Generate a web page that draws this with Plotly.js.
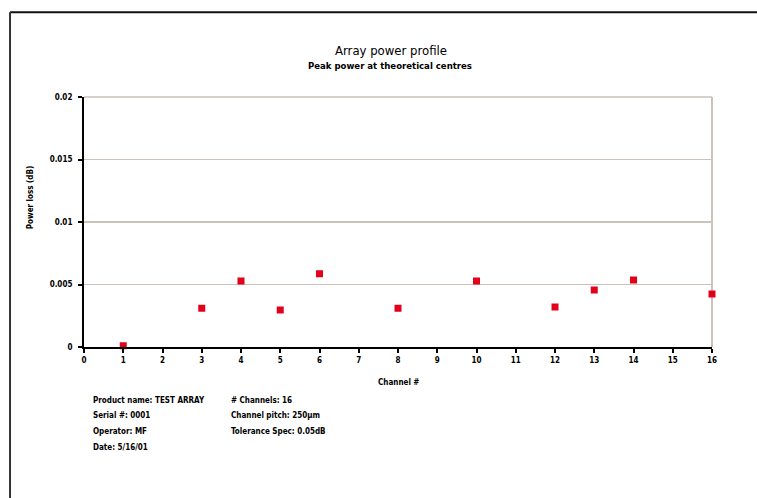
<!DOCTYPE html>
<html>
<head>
<meta charset="utf-8">
<script src="https://cdn.plot.ly/plotly-3.0.1.min.js"></script>
<style>html,body{margin:0;padding:0;background:#fff;}#chart{width:757px;height:498px;}</style>
</head>
<body>
<div id="chart"></div>
<script>
// Data
const channels = [1, 3, 4, 5, 6, 8, 10, 12, 13, 14, 16];
const powerLoss = [0.0001, 0.0031, 0.00528, 0.00296, 0.00586, 0.0031, 0.00528, 0.0032, 0.00456, 0.00536, 0.00424];
const xTicks = [0,1,2,3,4,5,6,7,8,9,10,11,12,13,14,15,16];
const yTicks = [0, 0.005, 0.01, 0.015, 0.02];
const yTickLabels = ["0", "0.005", "0.01", "0.015", "0.02"];
const infoLeft = ["Product name: TEST ARRAY", "Serial #: 0001", "Operator: MF", "Date: 5/16/01"];
const infoRight = ["# Channels: 16", "Channel pitch: 250µm", "Tolerance Spec: 0.05dB"];

const FONT = "Liberation Sans Narrow, Arial Narrow, DejaVu Sans Condensed, sans-serif";
const L = 83.5, R = 711.7, T = 97.3, B = 347.3;
const W = 757, H = 498;
const px = x => (x - L) / (R - L);
const py = y => (B - y) / (B - T);

const trace = {
  x: channels, y: powerLoss, type: 'scatter', mode: 'markers',
  marker: {symbol: 'square', size: 7, color: '#e2001a'},
  cliponaxis: false, hoverinfo: 'skip'
};

const annotations = [
  {text: 'Array power profile', x: px(391), y: py(51), font: {size: 13}},
  {text: '<b>Peak power at theoretical centres</b>', x: px(390), y: py(66), font: {size: 9.5}},
  {text: '<b>Power loss (dB)</b>', x: px(30), y: py(198), textangle: -90, font: {size: 8}},
  {text: '<b>Channel #</b>', x: px(398), y: py(383), font: {size: 8}}
];
const lineYs = [401, 416, 432, 448];
infoLeft.forEach((t, i) => annotations.push({text: '<b>' + t + '</b>', x: px(91), y: py(lineYs[i]), xanchor: 'left', font: {size: 8}}));
infoRight.forEach((t, i) => annotations.push({text: '<b>' + t + '</b>', x: px(229), y: py(lineYs[i]), xanchor: 'left', font: {size: 8}}));
annotations.forEach(a => {
  a.xref = 'paper'; a.yref = 'paper'; a.showarrow = false;
  if (!a.xanchor) a.xanchor = 'center';
  a.yanchor = 'middle';
  a.font = Object.assign({family: FONT, color: '#000'}, a.font);
});

const GRID = '#cbc2ba';
const layout = {
  width: W, height: H,
  margin: {l: L, r: W - R, t: T, b: H - B, pad: 0},
  paper_bgcolor: '#fff', plot_bgcolor: '#fff',
  showlegend: false,
  font: {family: FONT, size: 8, color: '#000'},
  xaxis: {
    range: [0, 16], tickvals: xTicks, ticktext: xTicks.map(String),
    showgrid: false, zeroline: false,
    showline: true, linecolor: '#000', linewidth: 2,
    ticks: 'outside', ticklen: 4, tickwidth: 2, tickcolor: '#000',
    tickfont: {family: FONT, size: 8, color: '#000', weight: 'bold'},
    fixedrange: true
  },
  yaxis: {
    range: [0, 0.02], tickvals: yTicks, ticktext: yTickLabels,
    showgrid: true, gridcolor: GRID, gridwidth: 1.5, zeroline: false,
    showline: true, linecolor: '#000', linewidth: 2,
    ticks: 'outside', ticklen: 4, tickwidth: 2, tickcolor: '#000',
    ticklabelstandoff: 4,
    tickfont: {family: FONT, size: 8, color: '#000', weight: 'bold'},
    fixedrange: true
  },
  shapes: [
    {type: 'line', xref: 'paper', yref: 'paper', x0: 1, x1: 1, y0: 0, y1: 1, line: {color: GRID, width: 2}, layer: 'below'},
    {type: 'line', xref: 'paper', yref: 'paper', x0: 0, x1: 1, y0: 1, y1: 1, line: {color: GRID, width: 1.5}, layer: 'below'},
    {type: 'line', xref: 'paper', yref: 'paper', x0: px(9.5), x1: px(760), y0: py(12.5), y1: py(12.5), line: {color: '#111', width: 2}},
    {type: 'line', xref: 'paper', yref: 'paper', x0: px(9.5), x1: px(9.5), y0: py(12.5), y1: py(505), line: {color: '#333', width: 2}}
  ],
  annotations: annotations
};

Plotly.newPlot('chart', [trace], layout, {displayModeBar: false, staticPlot: true});
</script>
</body>
</html>
